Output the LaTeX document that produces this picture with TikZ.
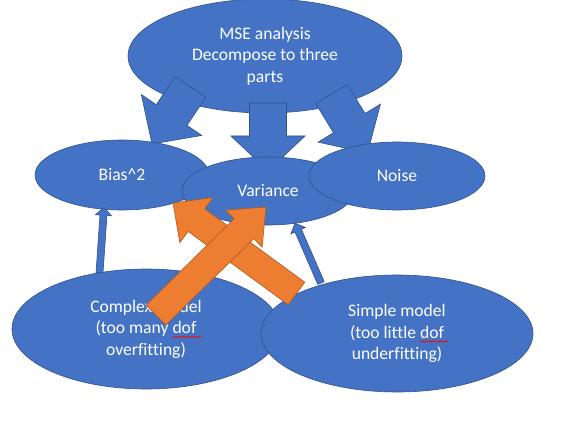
\documentclass[tikz,border=0pt]{standalone}
\usepackage{fontspec}
\setmainfont{Carlito}[Ligatures=CommonOff]
\usepackage{tikz}
\usetikzlibrary{shapes,calc,decorations.pathmorphing}

\definecolor{boxblue}{RGB}{68,114,196}
\definecolor{edgeblue}{RGB}{47,82,143}
\definecolor{boxorange}{RGB}{237,125,49}
\definecolor{edgeorange}{RGB}{174,90,33}

% block arrow: style, tail, tip, half shaft, half head, head length
\newcommand{\blockarrow}[6]{%
  \coordinate (neck) at ($(#3)!#6!(#2)$);
  \filldraw[#1] ($(#2)!#4!90:(#3)$) -- ($(neck)!#4!90:(#3)$)
    -- ($(neck)!#5!90:(#3)$) -- (#3) -- ($(neck)!#5!-90:(#3)$)
    -- ($(neck)!#4!-90:(#3)$) -- ($(#2)!#4!-90:(#3)$) -- cycle;
}

\begin{document}
\begin{tikzpicture}[x=1pt, y=-1pt,
    part/.style={ellipse, draw=edgeblue, fill=boxblue, line width=0.6pt, inner sep=0pt,
      text=white, align=center, font=\fontsize{17.6}{21.5}\selectfont},
    barr/.style={fill=boxblue, draw=edgeblue, line width=0.6pt},
    oarr/.style={fill=boxorange, draw=edgeorange, line width=0.6pt},
    typo/.style={red, line width=0.5pt, decorate, decoration={snake, amplitude=0.8pt, segment length=2.4pt}},
]
\useasboundingbox (0,0) rectangle (585,430);

% Top ellipse
\node[part, minimum width=274pt, minimum height=114pt] (mse) at (265,56)
  {MSE analysis\\Decompose to three\\parts};

% Arrows into the three parts
\coordinate (t1) at (190.5,87);  \coordinate (h1) at (152,144);
\coordinate (t2) at (268,103);   \coordinate (h2) at (268,171);
\coordinate (t3) at (331.5,94);  \coordinate (h3) at (367.5,153);
\blockarrow{barr}{t1}{h1}{18.5pt}{36.5pt}{35pt}
\blockarrow{barr}{t2}{h2}{18.5pt}{37pt}{35pt}
\blockarrow{barr}{t3}{h3}{18.5pt}{36.5pt}{35pt}

% The three parts
\node[part, minimum width=174pt, minimum height=70pt] (bias) at (122,175) {Bias\^{}2};
\node[part, minimum width=172pt, minimum height=68pt] (var) at (268,191) {Variance};
\node[part, minimum width=176pt, minimum height=68pt] (noise) at (397,176) {Noise};

% Thin arrows up
\coordinate (t4) at (99.5,273); \coordinate (t5) at (321,283);
\blockarrow{barr}{t4}{$(bias.south)+(-18,-3)$}{3.5pt}{8pt}{8pt}
\blockarrow{barr}{t5}{$(var.south)+(27,-2)$}{3.5pt}{8pt}{8pt}

% Models
\node[part, minimum width=268pt, minimum height=120pt] (cplx) at (146,329)
  {Complex model\\(too many dof\\overfitting)};
\node[part, minimum width=272pt, minimum height=117pt] (smpl) at (397,333.5)
  {Simple model\\(too little dof\\underfitting)};
\draw[typo] ($(cplx.center)+(27,8)$) -- ($(cplx.center)+(56,8)$);
\draw[typo] ($(smpl.center)+(23,8)$) -- ($(smpl.center)+(51,8)$);

% Orange arrows
\coordinate (t6) at (296.5,293.5); \coordinate (h6) at (173,203);
\coordinate (t7) at (156,315);     \coordinate (h7) at (266,207);
\blockarrow{oarr}{t6}{h6}{14pt}{28pt}{29pt}
\blockarrow{oarr}{t7}{h7}{14pt}{26pt}{31pt}
\end{tikzpicture}
\end{document}
